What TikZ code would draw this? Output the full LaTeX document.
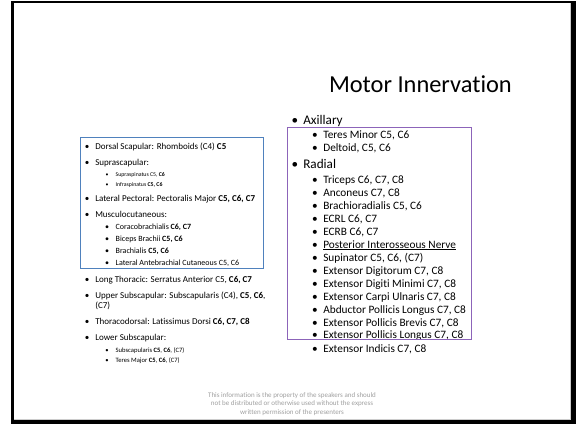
\documentclass[tikz,border=0pt]{standalone}
\usepackage{fontspec}
\setmainfont{Carlito}[Ligatures=NoCommon]
\definecolor{boxblue}{RGB}{79,129,189}
\definecolor{boxpurple}{RGB}{140,100,185}
\definecolor{notegray}{RGB}{160,160,160}
\tikzset{
  txt/.style={anchor=base west, inner sep=0pt, outer sep=0pt},
  dot/.style={anchor=base, inner sep=0pt, outer sep=0pt},
  frame/.style={line width=1pt},
}
% one bulleted line: name, bullet x, text x, baseline y, font size, text
\newcommand\bul[6]{%
  \node[dot,font=\fontsize{#5}{#5}\selectfont] (#1-b) at (#2,#4) {\textbullet};
  \node[txt,font=\fontsize{#5}{#5}\selectfont] (#1) at (#3,#4) {#6};
}
\begin{document}
\begin{tikzpicture}[x=1pt,y=-1pt]
\useasboundingbox (0,0) rectangle (577,424);
% slide with its dark frame
\fill[black] (11,1) rectangle (575.5,424);
\fill[white] (14,3.3) rectangle (571,420);
\draw[gray!40,line width=0.6pt] (14,419.7) -- (570.7,419.7) -- (570.7,3.3);

% title
\node[txt,font=\fontsize{24.4}{26}\selectfont] (title) at (329,92.7) {Motor Innervation};

% left column
\bul{ds}{87}{95.3}{149}{9}{Dorsal Scapular: Rhomboids (C4) \textbf{C5}}
\bul{ss}{87}{95.3}{165}{9}{Suprascapular:}
\bul{sp}{107}{115.7}{176.3}{5.8}{Supraspinatus C5, \textbf{C6}}
\bul{is}{107}{115.7}{186.3}{5.8}{Infraspinatus \textbf{C5, C6}}
\bul{lp}{87}{95.3}{201}{9}{Lateral Pectoral: Pectoralis Major \textbf{C5, C6, C7}}
\bul{mc}{87}{95.3}{217.6}{9}{Musculocutaneous:}
\bul{cb}{107}{115.7}{229.6}{8}{Coracobrachialis \textbf{C6, C7}}
\bul{bb}{107}{115.7}{241.6}{8}{Biceps Brachii \textbf{C5, C6}}
\bul{br}{107}{115.7}{253.6}{8}{Brachialis \textbf{C5, C6}}
\bul{lac}{107}{115.7}{265.6}{8}{Lateral Antebrachial Cutaneous C5, C6}
\bul{lt}{87}{95.3}{282}{9}{Long Thoracic: Serratus Anterior C5, \textbf{C6, C7}}
\bul{us}{87}{95.3}{298}{9}{Upper Subscapular: Subscapularis (C4), \textbf{C5}, \textbf{C6},}
\node[txt,font=\fontsize{9}{9}\selectfont] (us2) at (95.3,308) {(C7)};
\bul{td}{87}{95.3}{324.7}{9}{Thoracodorsal: Latissimus Dorsi \textbf{C6, C7, C8}}
\bul{ls}{87}{95.3}{340.7}{9}{Lower Subscapular:}
\bul{sb}{107}{115.7}{352.6}{6.6}{Subscapularis \textbf{C5}, \textbf{C6}, (C7)}
\bul{tm}{107}{115.7}{362.6}{6.6}{Teres Major \textbf{C5}, \textbf{C6}, (C7)}
\draw[boxblue,frame] (80.5,137.7) rectangle (263.5,268);

% right column
\bul{ax}{295}{303.3}{124}{13.2}{Axillary}
\bul{ter}{315}{323.3}{138.5}{11.3}{Teres Minor C5, C6}
\bul{del}{315}{323.3}{151.5}{11.3}{Deltoid, C5, C6}
\bul{rad}{295}{303.3}{168.5}{13.2}{Radial}
\bul{tri}{315}{323.3}{183}{11.3}{Triceps C6, C7, C8}
\bul{anc}{315}{323.3}{196}{11.3}{Anconeus C7, C8}
\bul{brr}{315}{323.3}{209}{11.3}{Brachioradialis C5, C6}
\bul{ecrl}{315}{323.3}{222}{11.3}{ECRL C6, C7}
\bul{ecrb}{315}{323.3}{235}{11.3}{ECRB C6, C7}
\bul{pin}{315}{323.3}{248}{11.3}{\underline{Posterior Interosseous Nerve}}
\bul{sup}{315}{323.3}{261}{11.3}{Supinator C5, C6, (C7)}
\bul{edc}{315}{323.3}{274}{11.3}{Extensor Digitorum C7, C8}
\bul{edm}{315}{323.3}{287}{11.3}{Extensor Digiti Minimi C7, C8}
\bul{ecu}{315}{323.3}{300}{11.3}{Extensor Carpi Ulnaris C7, C8}
\bul{apl}{315}{323.3}{313}{11.3}{Abductor Pollicis Longus C7, C8}
\bul{epb}{315}{323.3}{326}{11.3}{Extensor Pollicis Brevis C7, C8}
\bul{epl}{315}{323.3}{338.3}{11.3}{Extensor Pollicis Longus C7, C8}
\bul{eip}{315}{323.3}{352}{11.3}{Extensor Indicis C7, C8}
\draw[boxpurple,frame] (287.5,127.5) rectangle (471,339);

% footer note
\node[anchor=north,inner sep=0pt,align=center,text=notegray,
      font=\fontsize{7}{8.6}\selectfont] (note) at (292,392)
  {This information is the property of the speakers and should\\
   not be distributed or otherwise used without the express\\
   written permission of the presenters};
\end{tikzpicture}
\end{document}
